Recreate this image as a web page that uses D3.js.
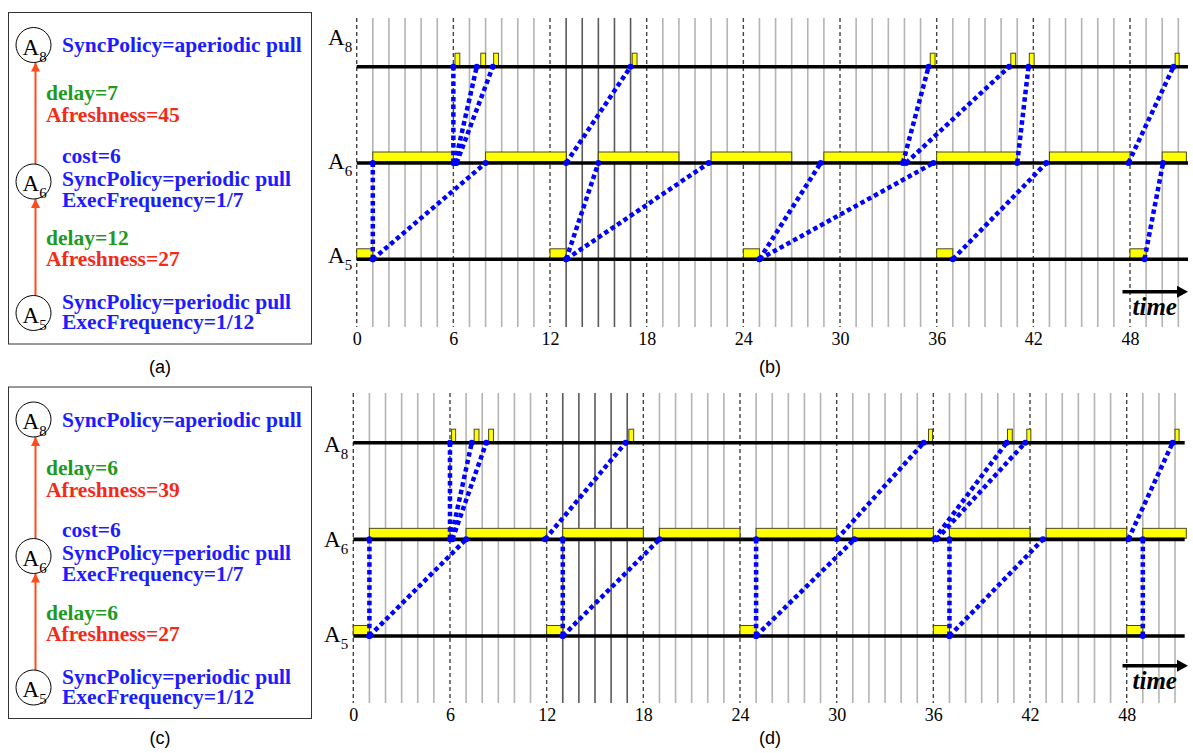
<!DOCTYPE html>
<html><head><meta charset="utf-8">
<script src="https://cdn.jsdelivr.net/npm/d3@7/dist/d3.min.js"></script>
<style>body{margin:0;background:#fff}svg{display:block}</style>
</head><body>
<svg id="c" width="1193" height="753"></svg>
<script>
// ---------- DATA ----------
const rows = ["A8", "A6", "A5"];
const tickValues = [0, 6, 12, 18, 24, 30, 36, 42, 48];
const gridLast = 51;               // last integer grid line
const darkGrid = [13, 14, 15, 16, 17];
const timeEnd = 51.6;              // end of the row lines

// panel (b)
const bA8Bars = [[6.1,6.4],[7.7,8.0],[8.5,8.8],[17.1,17.4],[35.6,35.9],[40.6,40.9],[41.75,42.05],[50.8,51.05]];
const bA6Bars = [[1,6],[8,13],[15,20],[22,27],[29,34],[36,41],[43,48],[50,51.5]];
const bA5Bars = [[0,1],[12,13],[24,25],[36,37],[48,49]];
const bLinks56 = [[1,1],[1,8],[13,15],[13,21.85],[25,28.8],[25,35.8],[37,42.8],[48.9,50.05]];
const bLinks68 = [[6,6],[6.1,7.45],[6.2,8.45],[13,17],[33.9,35.5],[34.1,40.5],[41,41.7],[47.9,50.7]];

// panel (d)
const dA8Bars = [[6.1,6.35],[7.5,7.8],[8.4,8.7],[17.1,17.4],[35.7,35.95],[40.6,40.9],[41.8,42.05],[51.0,51.25]];
const dA6Bars = [[1,6],[7,12],[13,18],[19,24],[25,30],[31,36],[37,42],[43,48],[49,51.7]];
const dA5Bars = [[0,1],[12,13],[24,25],[36,37],[48,49]];
const dLinks56 = [[1,1],[1,7],[13,13],[13,19],[25,25],[25,31.1],[37,37],[37,42.8],[49,49]];
const dLinks68 = [[6,6],[6.05,7.35],[6.15,8.25],[11.9,16.9],[30,35.4],[36.05,40.55],[36.2,41.7],[48.1,50.85]];

// panel (a) / (c) text
const aTexts = {
  a8: ["SyncPolicy=aperiodic pull"],
  e86: ["delay=7", "Afreshness=45"],
  a6: ["cost=6", "SyncPolicy=periodic pull", "ExecFrequency=1/7"],
  e65: ["delay=12", "Afreshness=27"],
  a5: ["SyncPolicy=periodic pull", "ExecFrequency=1/12"]
};
const cTexts = {
  a8: ["SyncPolicy=aperiodic pull"],
  e86: ["delay=6", "Afreshness=39"],
  a6: ["cost=6", "SyncPolicy=periodic pull", "ExecFrequency=1/7"],
  e65: ["delay=6", "Afreshness=27"],
  a5: ["SyncPolicy=periodic pull", "ExecFrequency=1/12"]
};
const captions = ["(a)", "(b)", "(c)", "(d)"];

// ---------- DRAW ----------
const svg = d3.select("#c");
const SERIF = "'Liberation Serif','Times New Roman',serif";
const BLUE = "#1c1cff", GREEN = "#1f9a1f", RED = "#f42a18", ARROW = "#ff4a1c";

svg.append("defs").append("marker")
  .attr("id", "ah").attr("viewBox", "0 0 10 10").attr("refX", 10).attr("refY", 5)
  .attr("markerWidth", 9).attr("markerHeight", 9).attr("markerUnits", "userSpaceOnUse")
  .attr("orient", "auto")
  .append("path").attr("d", "M0,0 L10,5 L0,10 Z").attr("fill", ARROW);

function nodeLabel(g, x, y, sub) {
  const t = g.append("text").attr("x", x).attr("y", y).attr("font-family", SERIF).attr("fill", "#000");
  t.append("tspan").attr("font-size", 23).text("A");
  t.append("tspan").attr("font-size", 15).attr("dy", 7).text(sub);
}

function drawGraph(oy, T) {
  const g = svg.append("g").attr("transform", `translate(0,${oy})`);
  g.append("rect").attr("x", 8.5).attr("y", 12.5).attr("width", 303).attr("height", 331.5)
    .attr("fill", "#fff").attr("stroke", "#333").attr("stroke-width", 1);
  const cx = 33.5;
  const nodes = [{n: "8", y: 45}, {n: "6", y: 181.5}, {n: "5", y: 313}];
  const r = 17.5;
  g.append("line").attr("x1", 35.5).attr("x2", 35.5).attr("y1", 181.5 - r).attr("y2", 45 + r)
    .attr("stroke", ARROW).attr("stroke-width", 2).attr("marker-end", "url(#ah)");
  g.append("line").attr("x1", 35.5).attr("x2", 35.5).attr("y1", 313 - r).attr("y2", 181.5 + r)
    .attr("stroke", ARROW).attr("stroke-width", 2).attr("marker-end", "url(#ah)");
  nodes.forEach(d => {
    g.append("circle").attr("cx", cx).attr("cy", d.y).attr("r", r)
      .attr("fill", "#fff").attr("stroke", "#000").attr("stroke-width", 1);
    nodeLabel(g, cx - 11, d.y + 9.5, d.n);
  });
  const txt = (x, y, s, c) => g.append("text").attr("x", x).attr("y", y).attr("font-family", SERIF)
    .attr("font-weight", "bold").attr("font-size", 21.5).attr("fill", c).text(s);
  txt(62, 52, T.a8[0], BLUE);
  txt(46, 100, T.e86[0], GREEN);
  txt(46, 122, T.e86[1], RED);
  txt(62, 162.5, T.a6[0], BLUE);
  txt(62, 185.5, T.a6[1], BLUE);
  txt(62, 206.5, T.a6[2], BLUE);
  txt(46, 245, T.e65[0], GREEN);
  txt(46, 266, T.e65[1], RED);
  txt(62, 309, T.a5[0], BLUE);
  txt(62, 329, T.a5[1], BLUE);
}

function drawTiming(cfg) {
  const g = svg.append("g");
  const x = d3.scaleLinear().domain([0, 48]).range([cfg.x0, cfg.x48]);
  const y = d3.scalePoint().domain(rows).range([cfg.yTop, cfg.yBot]);

  const minor = d3.range(1, gridLast + 1).filter(v => v % 6 !== 0);
  g.selectAll(".mg").data(minor).join("line")
    .attr("x1", d => x(d)).attr("x2", d => x(d)).attr("y1", cfg.gTop).attr("y2", cfg.gBot)
    .attr("stroke", d => darkGrid.includes(d) ? "#5a5a5a" : "#b4b4b4")
    .attr("stroke-width", 1.6);
  g.selectAll(".jg").data(tickValues).join("line")
    .attr("x1", d => x(d)).attr("x2", d => x(d)).attr("y1", cfg.gTop).attr("y2", cfg.gBot)
    .attr("stroke", "#444").attr("stroke-width", 1.4).attr("stroke-dasharray", "4,3");

  const bar = (data, row, h) => g.selectAll(null).data(data).join("rect")
    .attr("x", d => x(d[0])).attr("width", d => x(d[1]) - x(d[0]))
    .attr("y", y(row) - h).attr("height", h - 1)
    .attr("fill", "#ffff00").attr("stroke", "#4a4a20").attr("stroke-width", 1);
  bar(cfg.a8, "A8", 13.5);
  bar(cfg.a6, "A6", 11);
  bar(cfg.a5, "A5", 10.5);

  g.selectAll(".row").data(rows).join("line")
    .attr("x1", x(0)).attr("x2", x(timeEnd)).attr("y1", d => y(d)).attr("y2", d => y(d))
    .attr("stroke", "#000").attr("stroke-width", 3.6);

  const link = (data, from, to) => {
    g.selectAll(null).data(data).join("line")
      .attr("x1", d => x(d[0])).attr("y1", y(from)).attr("x2", d => x(d[1])).attr("y2", y(to))
      .attr("stroke", "#0000ff").attr("stroke-width", 4.5).attr("stroke-dasharray", "4.5,3.2");
    const ends = data.flatMap(d => [[d[0], from], [d[1], to]]);
    g.selectAll(null).data(ends).join("circle")
      .attr("cx", d => x(d[0])).attr("cy", d => y(d[1])).attr("r", 3).attr("fill", "#0000ff");
  };
  link(cfg.l56, "A5", "A6");
  link(cfg.l68, "A6", "A8");

  rows.forEach((r, i) => nodeLabel(g, cfg.labX, y(r) + cfg.labDy[i], r.slice(1)));

  const ax = g.append("g").attr("transform", `translate(0,${cfg.gBot + 2})`)
    .call(d3.axisBottom(x).tickValues(tickValues).tickSize(0).tickPadding(3).tickFormat(d3.format("d")));
  ax.select(".domain").remove();
  ax.selectAll("text").attr("font-family", SERIF).attr("font-size", 18).attr("fill", "#000");

  g.append("line").attr("x1", cfg.arrX0).attr("x2", cfg.arrX1 - 8).attr("y1", cfg.arrY).attr("y2", cfg.arrY)
    .attr("stroke", "#000").attr("stroke-width", 3.5);
  g.append("path").attr("d", `M${cfg.arrX1},${cfg.arrY} L${cfg.arrX1 - 11},${cfg.arrY - 6} L${cfg.arrX1 - 11},${cfg.arrY + 6} Z`)
    .attr("fill", "#000");
  g.append("text").attr("x", cfg.arrX0 + 10).attr("y", cfg.arrY + 23)
    .attr("font-family", SERIF).attr("font-weight", "bold").attr("font-style", "italic")
    .attr("font-size", 25).attr("fill", "#000").text("time");
}

drawGraph(0, aTexts);
drawGraph(374.5, cTexts);

drawTiming({x0: 356.7, x48: 1130, yTop: 66.7, yBot: 259.3, gTop: 18, gBot: 327,
  a8: bA8Bars, a6: bA6Bars, a5: bA5Bars, l56: bLinks56, l68: bLinks68,
  labX: 328, labDy: [-21.5, 6, 4], arrX0: 1122.5, arrX1: 1188, arrY: 291.7});
drawTiming({x0: 353.3, x48: 1126.7, yTop: 442.7, yBot: 636, gTop: 393, gBot: 703,
  a8: dA8Bars, a6: dA6Bars, a5: dA5Bars, l56: dLinks56, l68: dLinks68,
  labX: 324, labDy: [9, 7.4, 5.7], arrX0: 1122.5, arrX1: 1188, arrY: 665.7});

const capPos = [[160, 373], [770, 373], [160, 744], [770, 744]];
svg.selectAll(".cap").data(captions).join("text")
  .attr("x", (d, i) => capPos[i][0]).attr("y", (d, i) => capPos[i][1])
  .attr("text-anchor", "middle").attr("font-family", "'Liberation Sans',Arial,sans-serif")
  .attr("font-size", 18).attr("fill", "#000").text(d => d);
</script>
</body></html>
